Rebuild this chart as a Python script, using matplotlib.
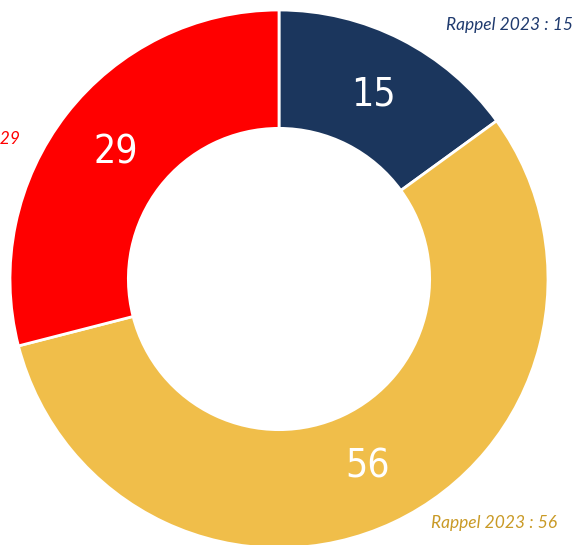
import matplotlib.pyplot as plt

# data
categories = ["A", "B", "C"]
values = [15, 56, 29]
rappel_2023 = [15, 56, 29]
colors = ["#1b365d", "#f0be4a", "#ff0000"]
rappel_colors = ["#1f3a6e", "#c99a26", "#ff0000"]

W, H = 577, 545
fig = plt.figure(figsize=(W / 100, H / 100), dpi=100)
ax = fig.add_axes([0, 0, 1, 1])

cx, cy, R = 279, H - 279, 269

wedges, texts, autotexts = ax.pie(
    values, colors=colors, startangle=90, counterclock=False,
    center=(cx, cy), radius=R, frame=True,
    autopct=lambda p: "%d" % round(p * sum(values) / 100),
    pctdistance=0.77,
    wedgeprops=dict(width=R * 0.44, edgecolor="white", linewidth=2),
    textprops=dict(color="white", fontsize=28, fontweight="normal",
                   fontstretch="condensed", family="DejaVu Sans"))
ax.set_xlim(0, W)
ax.set_ylim(0, H)
ax.axis("off")

# outer "Rappel 2023" labels (right aligned)
label_pos = [(573, H - 25), (557, H - 523), (20, H - 139)]
for (x, y), v, c in zip(label_pos, rappel_2023, rappel_colors):
    ax.text(x, y, "Rappel 2023 : %d" % v, ha="right", va="center",
            fontsize=12.5, style="italic", color=c,
            family=["Lato", "DejaVu Sans"])

plt.savefig("out.png", dpi=100)
